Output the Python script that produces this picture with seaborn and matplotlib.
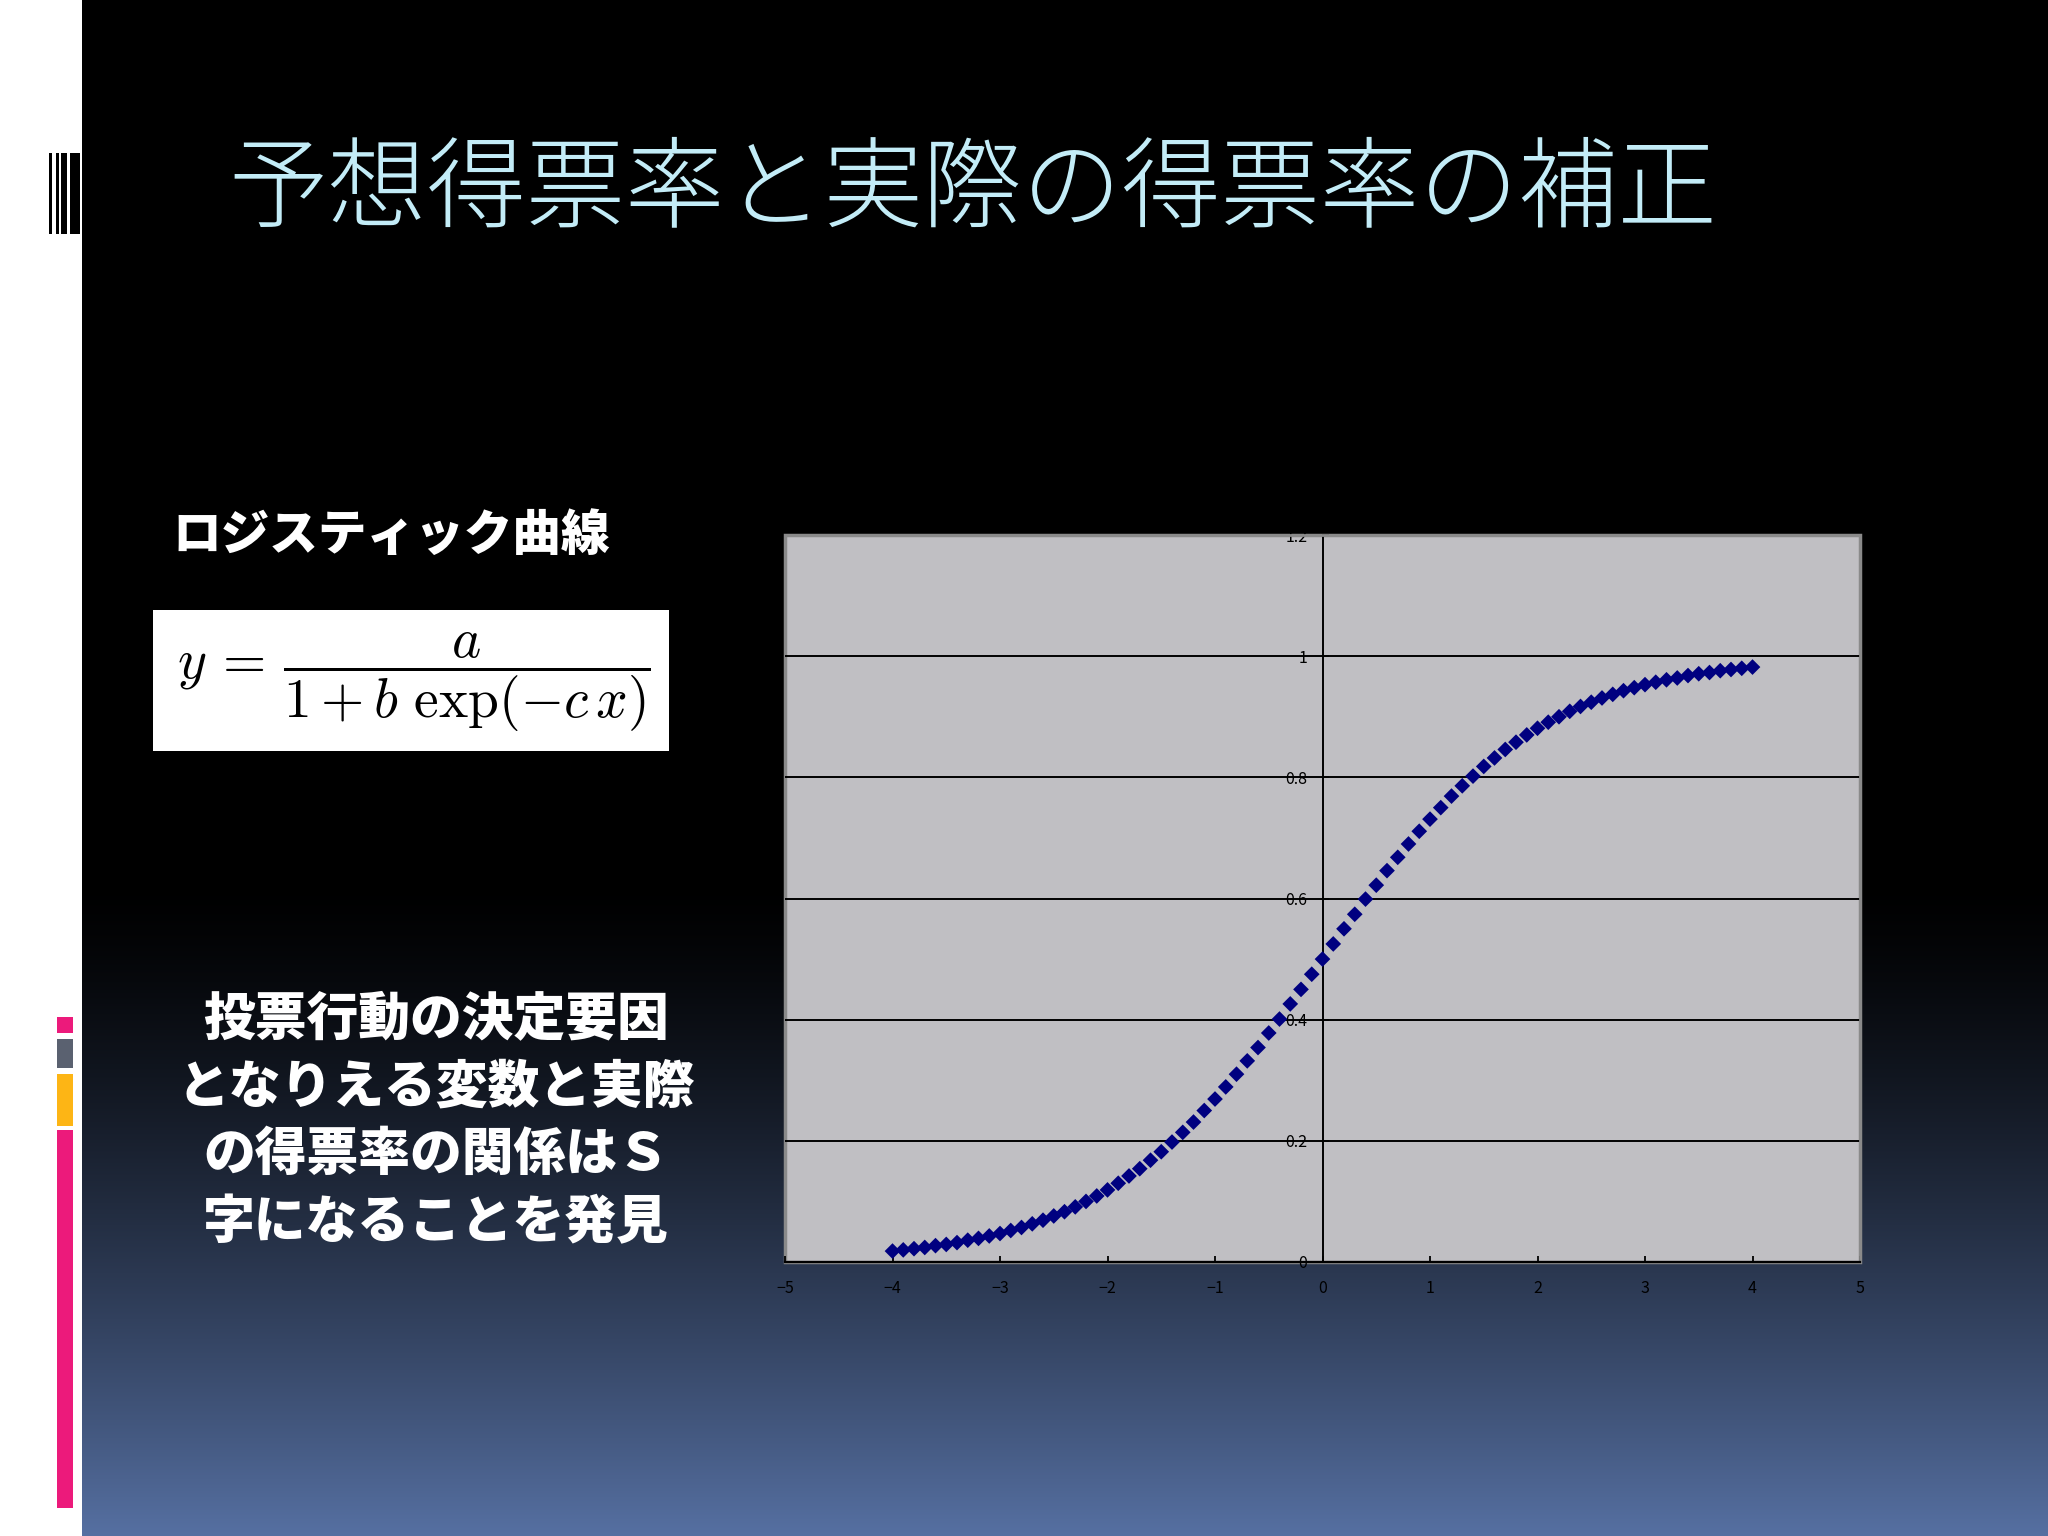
import numpy as np
import matplotlib
matplotlib.use("Agg")
import matplotlib.pyplot as plt
from matplotlib.patches import Rectangle
import seaborn as sns

# ---------------- data ----------------
x_vals = [-4.0, -3.9, -3.8, -3.7, -3.6, -3.5, -3.4, -3.3, -3.2, -3.1,
          -3.0, -2.9, -2.8, -2.7, -2.6, -2.5, -2.4, -2.3, -2.2, -2.1,
          -2.0, -1.9, -1.8, -1.7, -1.6, -1.5, -1.4, -1.3, -1.2, -1.1,
          -1.0, -0.9, -0.8, -0.7, -0.6, -0.5, -0.4, -0.3, -0.2, -0.1,
          0.0, 0.1, 0.2, 0.3, 0.4, 0.5, 0.6, 0.7, 0.8, 0.9,
          1.0, 1.1, 1.2, 1.3, 1.4, 1.5, 1.6, 1.7, 1.8, 1.9,
          2.0, 2.1, 2.2, 2.3, 2.4, 2.5, 2.6, 2.7, 2.8, 2.9,
          3.0, 3.1, 3.2, 3.3, 3.4, 3.5, 3.6, 3.7, 3.8, 3.9, 4.0]
y_vals = [0.018, 0.020, 0.022, 0.024, 0.027, 0.029, 0.032, 0.036, 0.039, 0.043,
          0.047, 0.052, 0.057, 0.063, 0.069, 0.076, 0.083, 0.091, 0.100, 0.109,
          0.119, 0.130, 0.142, 0.154, 0.168, 0.182, 0.198, 0.214, 0.231, 0.250,
          0.269, 0.289, 0.310, 0.332, 0.354, 0.378, 0.401, 0.426, 0.450, 0.475,
          0.500, 0.525, 0.550, 0.574, 0.599, 0.622, 0.646, 0.668, 0.690, 0.711,
          0.731, 0.750, 0.769, 0.786, 0.802, 0.818, 0.832, 0.846, 0.858, 0.870,
          0.881, 0.891, 0.900, 0.909, 0.917, 0.924, 0.931, 0.937, 0.943, 0.948,
          0.953, 0.957, 0.961, 0.964, 0.968, 0.971, 0.973, 0.976, 0.978, 0.980, 0.982]
x_ticks = [-5, -4, -3, -2, -1, 0, 1, 2, 3, 4, 5]
y_ticks = [0, 0.2, 0.4, 0.6, 0.8, 1.0, 1.2]
y_tick_labels = ["0", "0.2", "0.4", "0.6", "0.8", "1", "1.2"]

title_text = "予想得票率と実際の得票率の補正"
subtitle_text = "ロジスティック曲線"
formula_text = r"$y\,=\,\dfrac{a}{1+b\ \exp(-c\,x)}$"
body_lines = ["投票行動の決定要因", "となりえる変数と実際", "の得票率の関係はＳ", "字になることを発見"]

# ---------------- style ----------------
sns.set_theme(style="white")
plt.rcParams["font.family"] = ["Noto Sans CJK JP", "DejaVu Sans"]
plt.rcParams["mathtext.fontset"] = "cm"

W, H = 2048, 1536
fig = plt.figure(figsize=(W / 100, H / 100), dpi=100)
fig.patch.set_facecolor("white")

# background axes in pixel coordinates
bg = fig.add_axes([0, 0, 1, 1])
rows = np.arange(H)
t = np.clip((rows - 880) / (H - 880), 0, 1) ** 1.35
end = np.array([0x56, 0x70, 0xA2]) / 255.0
img = t[:, None, None] * end[None, None, :]
bg.imshow(img, extent=[82, W, H, 0], aspect="auto", interpolation="bilinear")
bg.set_xlim(0, W)
bg.set_ylim(H, 0)
bg.axis("off")

# barcode decoration
for x0, x1 in [(49, 52), (56, 59), (61, 67), (70, 80)]:
    bg.add_patch(Rectangle((x0, 153), x1 - x0, 81, facecolor="black", edgecolor="none"))
# coloured side bars
for (y0, y1), c in zip([(1017, 1033), (1039, 1068), (1074, 1126), (1130, 1508)],
                       ["#EC1A7B", "#5A6170", "#FDB515", "#EC1A7B"]):
    bg.add_patch(Rectangle((57, y0), 16, y1 - y0, facecolor=c, edgecolor="none"))

# texts
bg.text(228, 191, title_text, color="#C3ECF7", fontsize=71.5, fontweight="light",
        ha="left", va="center")
bg.text(172, 536, subtitle_text, color="white", fontsize=35, fontweight="black",
        ha="left", va="center")
bg.add_patch(Rectangle((153, 610), 516, 141, facecolor="white", edgecolor="none"))
bg.text(414, 682, formula_text, fontsize=40, color="black", ha="center", va="center")
for i, line in enumerate(body_lines):
    bg.text(436, 1019 + 68 * i, line, color="white", fontsize=37.3, fontweight="black",
            ha="center", va="center")

# ---------------- chart ----------------
ax = fig.add_axes([785 / W, 1 - 1262 / H, (1860 - 785) / W, (1262 - 535) / H])
ax.set_facecolor("#C0BFC3")
sns.scatterplot(x=x_vals, y=y_vals, marker="D", s=64, color="#000080",
                edgecolor="none", linewidth=0, ax=ax, zorder=3)
ax.set_xlim(-5, 5)
ax.set_ylim(0, 1.2)
ax.set_xticks(x_ticks)
ax.set_yticks(y_ticks)
ax.set_yticklabels(y_tick_labels)
ax.yaxis.grid(True, color="black", linewidth=1.4)
ax.xaxis.grid(False)
ax.set_axisbelow(True)

ax.spines["left"].set_position(("data", 0))
ax.spines["left"].set_color("black")
ax.spines["left"].set_linewidth(1.4)
ax.spines["bottom"].set_color("black")
ax.spines["bottom"].set_linewidth(1.6)
for s in ["top", "right"]:
    ax.spines[s].set_color("#8a8a8a")
    ax.spines[s].set_linewidth(2)
ax.add_patch(Rectangle((0, 0), 1, 1, transform=ax.transAxes, fill=False,
                       edgecolor="#8a8a8a", linewidth=2.5, zorder=0.5, clip_on=False))

ax.tick_params(axis="x", direction="in", length=4, width=1.3, colors="black",
               labelsize=11.5, pad=13, bottom=True)
ax.tick_params(axis="y", direction="in", length=4, width=1.3, colors="black",
               labelsize=11.5, pad=11, left=True)
ax.set_xlabel("")
ax.set_ylabel("")

fig.savefig("out.png", dpi=100)
